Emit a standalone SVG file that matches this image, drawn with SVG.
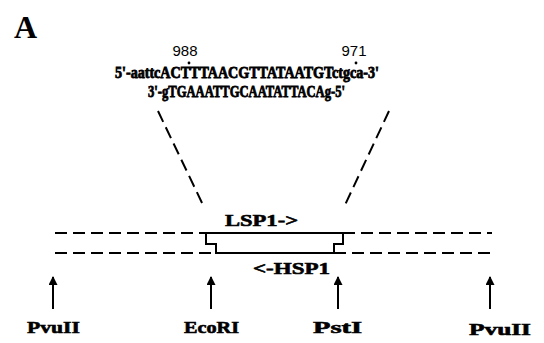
<svg xmlns="http://www.w3.org/2000/svg" width="544" height="343" viewBox="0 0 544 343">
<style>
.seq{font-family:"Liberation Serif","DejaVu Serif",serif;font-weight:bold;font-size:16px;fill:#000;stroke:#000;stroke-width:0.8}
.lab{font-family:"Liberation Serif","DejaVu Serif",serif;font-weight:bold;font-size:17px;fill:#000;stroke:#000;stroke-width:0.6}
.num{font-family:"Liberation Sans","DejaVu Sans",sans-serif;font-size:15px;fill:#000}
.dash{stroke:#000;stroke-width:2;stroke-dasharray:12 6;fill:none}
.arr{stroke:#000;stroke-width:2;fill:none}
</style>
<defs>
<marker id="ah" viewBox="0 0 10 10" refX="9" refY="5" markerWidth="11" markerHeight="9" markerUnits="userSpaceOnUse" orient="auto">
<path d="M0,0 L10,5 L0,10 Z" fill="#000"/>
</marker>
</defs>
<rect width="544" height="343" fill="#fff"/>
<text x="14" y="38" font-family="Liberation Serif,serif" font-weight="bold" font-size="32">A</text>
<g id="sequence">
<text class="num" x="185" y="56" text-anchor="middle">988</text>
<text class="num" x="354" y="56" text-anchor="middle">971</text>
<circle cx="189" cy="63" r="1.4" fill="#000"/>
<circle cx="356" cy="63" r="1.4" fill="#000"/>
<text class="seq" x="115" y="78" textLength="264" lengthAdjust="spacingAndGlyphs">5'-aattcACTTTAACGTTATAATGTctgca-3'</text>
<text class="seq" x="148" y="97" textLength="197" lengthAdjust="spacingAndGlyphs">3'-gTGAAATTGCAATATTACAg-5'</text>
</g>
<g id="dna">
<line class="dash" x1="55" y1="233" x2="205" y2="233"/>
<line class="dash" x1="343" y1="233" x2="492" y2="233"/>
<line class="dash" x1="55" y1="253" x2="215" y2="253"/>
<line class="dash" x1="334" y1="253" x2="492" y2="253"/>
</g>
<g id="promoter-box">
<path d="M206,233 L343,233 L343,244 L334,244 L334,253 L216,253 L216,244 L206,244 Z" fill="none" stroke="#000" stroke-width="2"/>
<text class="lab" x="225" y="226" textLength="73" lengthAdjust="spacingAndGlyphs">LSP1-&gt;</text>
<text class="lab" x="253" y="274" textLength="77" lengthAdjust="spacingAndGlyphs">&lt;-HSP1</text>
</g>
<g id="connectors">
<line class="dash" x1="158" y1="111" x2="203" y2="205"/>
<line class="dash" x1="389" y1="111" x2="345" y2="205"/>
<line class="arr" x1="53" y1="309" x2="53" y2="277" marker-end="url(#ah)"/>
<line class="arr" x1="211" y1="309" x2="211" y2="277" marker-end="url(#ah)"/>
<line class="arr" x1="338" y1="309" x2="338" y2="277" marker-end="url(#ah)"/>
<line class="arr" x1="490" y1="309" x2="490" y2="277" marker-end="url(#ah)"/>
</g>
<g id="sites">
<text class="lab" x="27" y="333" textLength="53" lengthAdjust="spacingAndGlyphs">PvuII</text>
<text class="lab" x="184" y="333" textLength="55" lengthAdjust="spacingAndGlyphs">EcoRI</text>
<text class="lab" x="313" y="333" textLength="49" lengthAdjust="spacingAndGlyphs">PstI</text>
<text class="lab" x="469" y="335" textLength="62" lengthAdjust="spacingAndGlyphs">PvuII</text>
</g>
</svg>
